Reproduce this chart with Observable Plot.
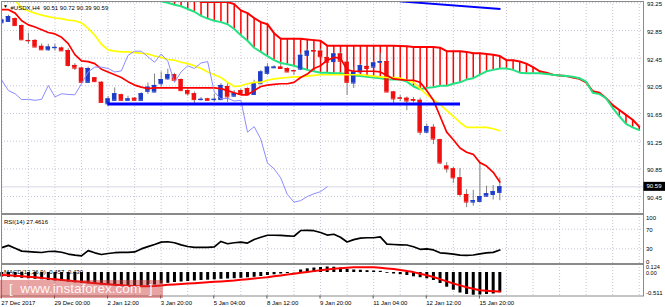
<!DOCTYPE html>
<html><head><meta charset="utf-8">
<script src="https://cdn.jsdelivr.net/npm/d3@7"></script>
<script src="https://cdn.jsdelivr.net/npm/@observablehq/plot@0.6"></script>
<style>
html,body{margin:0;padding:0;background:#fff;}
#chart{position:relative;width:665px;height:307px;overflow:hidden;font-family:"Liberation Sans",Arial,sans-serif;}
#chart svg{position:absolute;left:0;}
#wm{position:absolute;left:0;top:280px;width:163px;height:18px;background:rgba(204,51,51,0.45);color:rgba(255,255,255,0.92);font-size:13.6px;line-height:18px;white-space:pre;padding-left:9px;box-sizing:border-box;}
</style></head><body><div id="chart"></div>
<script>
// ---- candle data (H4 bars, index 0..75) ----
const open  = [92.96,92.98,93.02,92.92,92.705,92.705,92.62,92.57,92.60,92.595,92.56,92.344,92.305,92.10,92.165,92.10,91.79,91.84,91.92,91.84,91.87,91.84,91.97,91.96,92.08,92.15,92.21,92.14,91.98,91.935,91.85,91.86,91.85,91.85,92.04,91.90,91.98,92.01,91.925,92.08,92.23,92.31,92.32,92.30,92.27,92.29,92.49,92.56,92.55,92.46,92.40,92.51,92.39,92.09,92.25,92.33,92.32,92.39,92.40,91.96,91.875,91.87,91.85,91.84,91.38,91.45,91.27,90.89,90.85,90.72,90.48,90.37,90.38,90.455,90.48,90.51];
const high  = [93.02,93.07,93.03,92.93,92.81,92.72,92.655,92.65,92.65,92.61,92.585,92.37,92.32,92.32,92.17,92.11,91.895,92.02,91.93,91.90,91.88,91.95,92.09,92.22,92.25,92.29,92.23,92.15,92.01,91.96,91.88,91.87,91.93,92.08,92.08,91.98,92.00,92.02,92.13,92.27,92.37,92.34,92.36,92.31,92.28,92.52,92.575,92.58,92.58,92.48,92.53,92.53,92.41,92.32,92.36,92.36,92.41,92.52,92.41,91.97,91.91,91.89,91.88,91.87,91.50,91.49,91.28,90.94,90.87,90.855,90.55,90.54,90.93,90.60,90.61,90.72];
const low   = [92.95,92.97,92.92,92.70,92.65,92.60,92.56,92.55,92.55,92.55,92.32,92.27,92.10,92.09,92.10,91.81,91.75,91.84,91.83,91.83,91.83,91.83,91.925,91.95,92.03,92.13,92.12,91.97,91.90,91.79,91.83,91.83,91.81,91.84,91.81,91.89,91.915,91.91,91.92,92.07,92.20,92.30,92.29,92.24,92.20,92.27,92.48,92.49,92.46,92.38,92.39,92.39,91.91,92.01,92.23,92.29,92.30,92.37,91.95,91.79,91.82,91.69,91.80,91.33,91.36,91.20,90.91,90.79,90.64,90.44,90.29,90.31,90.36,90.44,90.40,90.39];
const close = [93.00,93.05,92.92,92.715,92.70,92.61,92.57,92.61,92.605,92.555,92.344,92.305,92.10,92.30,92.11,91.81,91.86,91.935,91.84,91.86,91.84,91.935,92.03,92.055,92.14,92.21,92.13,91.98,91.935,91.85,91.855,91.84,91.855,92.055,91.89,91.935,91.925,91.92,92.08,92.25,92.32,92.32,92.30,92.25,92.265,92.49,92.55,92.55,92.47,92.39,92.51,92.405,92.10,92.25,92.34,92.30,92.38,92.40,91.96,91.86,91.87,91.83,91.84,91.38,91.46,91.28,90.935,90.85,90.72,90.48,90.37,90.39,90.45,90.49,90.52,90.59];

// ---- Ichimoku ----
const tenkan = [93.15,93.15,93.10,92.99,92.93,92.90,92.86,92.82,92.80,92.75,92.66,92.50,92.41,92.40,92.37,92.29,92.25,92.21,92.17,92.11,92.06,92.03,92.01,92.02,92.02,92.02,92.02,92.02,92.02,92.02,92.02,92.02,92.02,92.01,91.98,91.95,91.92,91.92,91.98,92.04,92.06,92.07,92.08,92.08,92.10,92.17,92.22,92.30,92.34,92.42,92.46,92.45,92.28,92.26,92.26,92.26,92.26,92.25,92.20,92.15,92.14,92.13,92.13,92.10,91.98,91.84,91.61,91.38,91.27,91.15,91.09,91.06,90.94,90.89,90.80,90.66];
const kijun = [93.40,93.36,93.29,93.17,93.13,93.10,93.07,93.05,93.03,93.02,93.00,92.99,92.96,92.88,92.78,92.65,92.57,92.55,92.54,92.54,92.53,92.52,92.51,92.48,92.46,92.43,92.42,92.39,92.37,92.34,92.30,92.25,92.21,92.17,92.10,92.04,92.05,92.08,92.10,92.10,92.13,92.15,92.16,92.17,92.18,92.18,92.19,92.20,92.21,92.21,92.21,92.21,92.21,92.21,92.21,92.20,92.19,92.18,92.17,92.17,92.16,92.13,92.10,92.01,91.92,91.85,91.78,91.69,91.61,91.52,91.45,91.45,91.45,91.45,91.43,91.40];
const chikouShift = 26;
const cloudStart = 23; // bar index of first cloud value
const spanA = [93.30,93.27,93.25,93.22,93.20,93.16,93.12,93.06,93.02,92.99,92.97,92.94,92.87,92.78,92.70,92.60,92.54,92.48,92.42,92.38,92.36,92.34,92.31,92.28,92.26,92.24,92.24,92.23,92.23,92.22,92.20,92.19,92.18,92.17,92.16,92.14,92.14,92.14,92.11,92.04,92.00,92.02,92.03,92.05,92.05,92.08,92.10,92.14,92.16,92.21,92.26,92.28,92.30,92.30,92.28,92.24,92.23,92.23,92.23,92.22,92.21,92.20,92.19,92.18,92.16,92.11,91.95,91.93,91.87,91.73,91.61,91.50,91.45,91.41];
const spanB = [93.34,93.34,93.34,93.34,93.34,93.34,93.34,93.26,93.26,93.26,93.26,93.26,93.23,93.14,93.10,93.03,92.97,92.94,92.81,92.73,92.73,92.73,92.73,92.72,92.71,92.70,92.63,92.63,92.63,92.63,92.63,92.63,92.63,92.63,92.63,92.63,92.63,92.625,92.62,92.61,92.61,92.61,92.61,92.60,92.55,92.55,92.55,92.54,92.52,92.52,92.51,92.50,92.48,92.42,92.42,92.40,92.37,92.32,92.26,92.24,92.21,92.20,92.19,92.17,92.15,92.10,91.97,91.95,91.87,91.77,91.70,91.63,91.56,91.46];

// ---- user trend lines (bar index, price) ----
const trendX1 = [15.9, 59.9];
const trendY1 = [91.787, 93.27];
const trendX2 = [69.0, 75.1];
const trendY2 = [91.787, 93.16];

// ---- RSI(14) ----
const rsi = [32.5,37.0,31.0,25.3,24.3,23.2,22.4,24.5,24.7,23.0,19.3,17.1,15.6,26.3,21.8,18.3,20.4,22.0,22.8,22.8,23.6,29.8,34.5,38.8,43.7,44.4,42.3,38.0,34.7,33.1,33.1,33.1,34.1,45.0,40.3,42.3,43.7,41.7,48.9,53.6,57.7,57.7,57.3,56.5,55.6,67.3,67.7,66.9,63.2,58.1,59.7,53.6,43.9,48.7,51.9,52.6,52.6,54.2,39.4,38.8,38.2,37.8,34.1,29.0,30.0,27.7,21.8,20.8,19.1,17.1,16.7,17.3,19.7,21.6,22.8,27.4616];

// ---- MACD(12,26,9) ----
const macd = [-0.101,-0.108,-0.117,-0.131,-0.142,-0.153,-0.164,-0.180,-0.191,-0.203,-0.218,-0.232,-0.248,-0.255,-0.264,-0.282,-0.293,-0.304,-0.309,-0.315,-0.315,-0.311,-0.300,-0.282,-0.259,-0.243,-0.225,-0.214,-0.203,-0.191,-0.180,-0.173,-0.164,-0.153,-0.146,-0.140,-0.131,-0.119,-0.108,-0.090,-0.068,-0.052,-0.034,-0.023,-0.007,0.056,0.083,0.101,0.113,0.124,0.119,0.101,0.068,0.056,0.050,0.041,0.034,0.027,-0.018,-0.034,-0.050,-0.068,-0.097,-0.117,-0.142,-0.180,-0.248,-0.331,-0.399,-0.462,-0.495,-0.511,-0.507,-0.495,-0.484,-0.457];
const signal = [-0.054,-0.064,-0.075,-0.086,-0.097,-0.108,-0.123,-0.138,-0.152,-0.167,-0.182,-0.197,-0.211,-0.226,-0.240,-0.255,-0.266,-0.277,-0.288,-0.299,-0.309,-0.311,-0.310,-0.306,-0.292,-0.277,-0.268,-0.259,-0.250,-0.241,-0.232,-0.222,-0.211,-0.201,-0.190,-0.180,-0.165,-0.150,-0.136,-0.121,-0.106,-0.086,-0.066,-0.046,-0.027,-0.007,0.012,0.031,0.049,0.068,0.086,0.097,0.107,0.117,0.117,0.117,0.117,0.105,0.092,0.079,0.056,0.032,0.009,-0.028,-0.064,-0.101,-0.150,-0.199,-0.248,-0.290,-0.331,-0.365,-0.399,-0.410,-0.420,-0.430];

// ---- ticks ----
const xTicks = [0,8,16,24,32,40,48,56,64,72];
const xLabels = ["27 Dec 2017","29 Dec 00:00","2 Jan 12:00","3 Jan 20:00","5 Jan 04:00","8 Jan 12:00","9 Jan 20:00","11 Jan 04:00","12 Jan 12:00","15 Jan 20:00"];
const gridX = d3.range(0, 97, 4);
const priceTicks = [93.25,92.85,92.45,92.05,91.65,91.25,90.85,90.45];
const rsiLevels = [70, 30];

// ---- build tables ----
const N = close.length;
const candles = close.map((c, i) => ({i, open: open[i], high: high[i], low: low[i], close: c}));
const tk = tenkan.map((v, i) => ({i, v}));
const kj = kijun.map((v, i) => ({i, v}));
const chikou = close.map((v, i) => ({i: i - chikouShift, v})).filter(d => d.i >= 0);
const cloud = spanA.map((a, k) => ({j: cloudStart + k, a, b: spanB[k]}));
const trends = trendX1.map((x1, k) => ({x1, y1: trendY1[k], x2: trendX2[k], y2: trendY2[k]}));
const rsiData = rsi.map((v, i) => ({i, v}));
const macdData = macd.map((m, i) => ({i, m, s: signal[i]}));

const bull = "#1e3cc8", bear = "#f01010";
const half = 0.34;
const gridOpt = {stroke: "#c6c6d6", strokeDasharray: "1,2"};
const frameColor = "#8a8a8a";
const xDomain = [-0.05, 96.64];
const common = {
  width: 665, marginLeft: 1, marginRight: 22,
  x: {domain: xDomain, axis: null},
  style: {fontFamily: "'Liberation Sans', Arial, sans-serif", fontSize: "6px", background: "none", overflow: "visible", color: "#000"}
};
const last = candles[N - 1];
const mainTitle = `#USDX,H4  ${last.open.toFixed(2)} ${last.high.toFixed(2)} ${last.low.toFixed(2)} ${last.close.toFixed(2)}`;

function priceBox(index, scales, values, dims) {
  const y = scales.y(last.close);
  const x0 = dims.width - dims.marginRight;
  const g = d3.create("svg:g");
  g.append("rect").attr("x", x0 + 0.5).attr("y", y - 4.5).attr("width", 21.5).attr("height", 9).attr("fill", "#000");
  g.append("text").attr("x", x0 + 3.5).attr("y", y).attr("dy", "0.35em").attr("text-anchor", "start")
    .attr("fill", "#fff").attr("font-size", 6).text(last.close.toFixed(2));
  return g.node();
}

const main = Plot.plot({
  ...common, height: 214, marginTop: 1, marginBottom: 1,
  y: {domain: [90.205, 93.268], axis: null},
  marks: [
    Plot.ruleX(gridX, gridOpt),
    Plot.ruleY(priceTicks, gridOpt),
    Plot.ruleY([last.close], {stroke: "#d8d8e6"}),
    Plot.ruleX(cloud, {x: "j", y1: "b", y2: "a", stroke: "#ff0000", strokeWidth: 1.5, clip: true}),
    Plot.line(cloud, {x: "j", y: "b", stroke: "#ff0000", strokeWidth: 2, clip: true}),
    Plot.line(cloud, {x: "j", y: "a", stroke: "#22e383", strokeWidth: 2, clip: true}),
    Plot.ruleX(candles, {x: "i", y1: "low", y2: "high", stroke: "#808080", clip: true}),
    Plot.rect(candles, {x1: d => d.i - half, x2: d => d.i + half, y1: "open", y2: "close", fill: d => d.close >= d.open ? bull : bear, clip: true}),
    Plot.ruleY(candles, {y: "open", x1: d => d.i - half, x2: d => d.i + half, stroke: d => d.close >= d.open ? bull : bear, clip: true}),
    Plot.ruleY(candles, {y: "close", x1: d => d.i - half, x2: d => d.i + half, stroke: d => d.close >= d.open ? bull : bear, clip: true}),
    Plot.line(kj, {x: "i", y: "v", stroke: "#ffff00", strokeWidth: 1.7, clip: true}),
    Plot.line(tk, {x: "i", y: "v", stroke: "#ff0000", strokeWidth: 1.7, clip: true}),
    Plot.line(chikou, {x: "i", y: "v", stroke: "#8c8cff", strokeWidth: 1, clip: true}),
    Plot.link(trends.slice(0, 1), {x1: "x1", y1: "y1", x2: "x2", y2: "y2", stroke: "#0000ff", strokeWidth: 3, clip: true}),
    Plot.link(trends.slice(1), {x1: "x1", y1: "y1", x2: "x2", y2: "y2", stroke: "#0000ff", strokeWidth: 2, clip: true}),
    Plot.frame({stroke: frameColor}),
    Plot.text(priceTicks, {y: d => d, text: d => d.toFixed(2), frameAnchor: "right", textAnchor: "start", dx: 3.5, dy: 1.5}),
    priceBox,
    Plot.text(["\u25BC"], {frameAnchor: "top-left", dx: 1.5, dy: 2.5, textAnchor: "start", fontSize: 5}),
    Plot.text([mainTitle], {frameAnchor: "top-left", dx: 9, dy: 4, textAnchor: "start"})
  ]
});

const rsiPlot = Plot.plot({
  ...common, height: 51, marginTop: 1, marginBottom: 1,
  y: {domain: [0, 100], axis: null},
  marks: [
    Plot.ruleX(gridX, gridOpt),
    Plot.ruleY(rsiLevels, gridOpt),
    Plot.text([`RSI(14) ${rsi[N - 1].toFixed(4)}`], {frameAnchor: "top-left", dx: 2.5, dy: 5.3, textAnchor: "start"}),
    Plot.line(rsiData, {x: "i", y: "v", stroke: "#000", strokeWidth: 1.7}),
    Plot.frame({stroke: frameColor}),
    Plot.text([100], {y: d => d, text: d => String(d), frameAnchor: "right", textAnchor: "start", dx: 2.5, dy: 1, lineAnchor: "top"}),
    Plot.text(rsiLevels, {y: d => d, text: d => String(d), frameAnchor: "right", textAnchor: "start", dx: 2.5, dy: 0.5}),
    Plot.text([0], {y: d => d, text: d => String(d), frameAnchor: "right", textAnchor: "start", dx: 2.5, lineAnchor: "bottom"})
  ]
});

const mMax = d3.max(macd), mMin = d3.min(macd);
const macdPlot = Plot.plot({
  ...common, height: 44, marginTop: 1, marginBottom: 11.5,
  y: {domain: [-0.529, 0.180], axis: null},
  marks: [
    Plot.ruleX(gridX, gridOpt),
    Plot.text([`MACD(12,26,9) ${macd[N - 1].toFixed(3)} ${signal[N - 1].toFixed(3)}`], {frameAnchor: "top-left", dx: 2.5, dy: 5, textAnchor: "start"}),
    Plot.ruleX(macdData, {x: "i", y1: 0, y2: "m", stroke: "#000", strokeWidth: 3}),
    Plot.line(macdData, {x: "i", y: "s", stroke: "#ff0000", strokeWidth: 2}),
    Plot.frame({stroke: frameColor}),
    Plot.text([mMax], {y: d => d, text: d => d.toFixed(3), frameAnchor: "right", textAnchor: "start", dx: 2.5, dy: 0.5, fontSize: 5.5}),
    Plot.text([0], {y: d => d, text: () => "0.00", frameAnchor: "right", textAnchor: "start", dx: 2.5, dy: 1, fontSize: 5.5}),
    Plot.text([mMin], {y: d => d, text: d => d.toFixed(3), frameAnchor: "right", textAnchor: "start", dx: 2.5, lineAnchor: "bottom"}),
    Plot.axisX({ticks: xTicks, tickFormat: d => xLabels[xTicks.indexOf(d)], tickSize: 3, tickPadding: 1.5, textAnchor: "start", dx: -0.5, anchor: "bottom", label: null, stroke: "#555"})
  ]
});

const chart = document.getElementById("chart");
main.style.top = "0px";
rsiPlot.style.top = "213px";
macdPlot.style.top = "263px";
chart.append(main, rsiPlot, macdPlot);
const wm = document.createElement("div");
wm.id = "wm";
wm.textContent = "[  www.instaforex.com  ]";
chart.append(wm);
</script></body></html>
